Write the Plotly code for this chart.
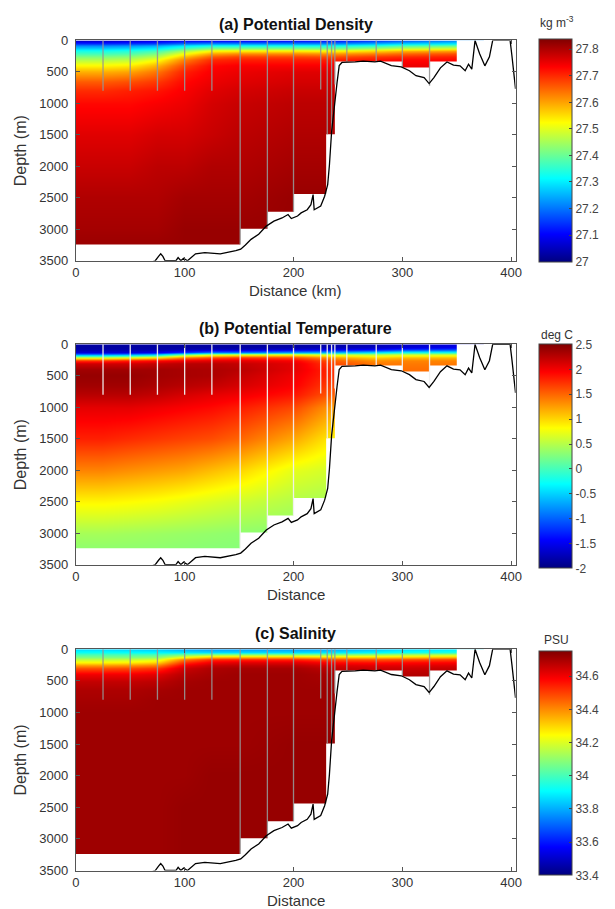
import plotly.graph_objects as go

# ---------------- data ----------------
dist_km = [0, 25, 50, 75, 100, 125, 150, 200, 240, 275, 300, 350]
depth_m = [0, 40, 80, 120, 160, 200, 250, 300, 400, 500, 650, 800, 1000, 1500, 2000, 2500, 3000, 3300]

# potential density (kg m-3), rows = depth_m, cols = dist_km
sigma = [
    [27.06, 27.06, 27.07, 27.08, 27.10, 27.10, 27.10, 27.11, 27.12, 27.15, 27.18, 27.22],
    [27.14, 27.14, 27.15, 27.16, 27.20, 27.22, 27.22, 27.22, 27.22, 27.25, 27.28, 27.30],
    [27.22, 27.22, 27.23, 27.25, 27.30, 27.33, 27.33, 27.33, 27.33, 27.35, 27.38, 27.40],
    [27.28, 27.28, 27.29, 27.31, 27.38, 27.43, 27.43, 27.43, 27.42, 27.45, 27.48, 27.50],
    [27.33, 27.33, 27.34, 27.37, 27.45, 27.52, 27.53, 27.53, 27.52, 27.55, 27.58, 27.60],
    [27.37, 27.37, 27.38, 27.42, 27.52, 27.60, 27.62, 27.62, 27.61, 27.63, 27.65, 27.67],
    [27.42, 27.42, 27.43, 27.47, 27.58, 27.66, 27.68, 27.68, 27.67, 27.69, 27.70, 27.71],
    [27.46, 27.46, 27.47, 27.52, 27.63, 27.70, 27.71, 27.71, 27.71, 27.72, 27.73, 27.73],
    [27.53, 27.53, 27.54, 27.59, 27.68, 27.73, 27.74, 27.74, 27.74, 27.75, 27.75, 27.75],
    [27.59, 27.59, 27.60, 27.64, 27.71, 27.74, 27.75, 27.76, 27.76, 27.76, 27.76, 27.76],
    [27.66, 27.66, 27.67, 27.69, 27.73, 27.75, 27.76, 27.77, 27.77, 27.77, 27.77, 27.77],
    [27.70, 27.70, 27.71, 27.72, 27.74, 27.76, 27.77, 27.78, 27.78, 27.78, 27.78, 27.78],
    [27.73, 27.73, 27.73, 27.74, 27.75, 27.77, 27.78, 27.79, 27.79, 27.79, 27.79, 27.79],
    [27.76, 27.76, 27.76, 27.77, 27.77, 27.78, 27.79, 27.80, 27.80, 27.80, 27.80, 27.80],
    [27.78, 27.78, 27.78, 27.79, 27.79, 27.80, 27.80, 27.81, 27.81, 27.81, 27.81, 27.81],
    [27.80, 27.80, 27.80, 27.80, 27.81, 27.81, 27.81, 27.82, 27.82, 27.82, 27.82, 27.82],
    [27.81, 27.81, 27.81, 27.81, 27.82, 27.82, 27.82, 27.82, 27.82, 27.82, 27.82, 27.82],
    [27.82, 27.82, 27.82, 27.82, 27.82, 27.82, 27.82, 27.82, 27.82, 27.82, 27.82, 27.82],
]

# potential temperature (deg C)
theta = [
    [-1.85, -1.85, -1.85, -1.85, -1.85, -1.85, -1.85, -1.85, -1.80, -1.75, -1.70, -1.60],
    [-1.85, -1.85, -1.85, -1.85, -1.85, -1.85, -1.85, -1.80, -1.75, -1.70, -1.60, -1.50],
    [-1.80, -1.80, -1.80, -1.80, -1.75, -1.70, -1.70, -1.60, -1.50, -1.40, -1.20, -1.10],
    [-1.60, -1.60, -1.60, -1.50, -1.20, -0.90, -0.90, -0.70, -0.60, -0.40, -0.20, -0.20],
    [-0.80, -0.80, -0.70, -0.50, 0.20, 0.60, 0.70, 0.80, 0.60, 0.50, 0.60, 0.60],
    [0.60, 0.60, 0.70, 0.90, 1.40, 1.60, 1.70, 1.60, 1.20, 1.00, 1.10, 1.10],
    [1.70, 1.70, 1.80, 1.90, 2.00, 2.05, 2.05, 1.95, 1.50, 1.30, 1.35, 1.35],
    [2.15, 2.15, 2.15, 2.20, 2.25, 2.25, 2.20, 2.05, 1.60, 1.40, 1.40, 1.40],
    [2.35, 2.35, 2.35, 2.35, 2.32, 2.30, 2.25, 2.05, 1.70, 1.50, 1.45, 1.45],
    [2.40, 2.40, 2.40, 2.35, 2.32, 2.30, 2.20, 2.00, 1.70, 1.50, 1.45, 1.45],
    [2.35, 2.35, 2.35, 2.30, 2.25, 2.20, 2.12, 1.95, 1.60, 1.50, 1.45, 1.45],
    [2.25, 2.25, 2.25, 2.20, 2.12, 2.05, 2.00, 1.85, 1.50, 1.45, 1.45, 1.45],
    [2.05, 2.05, 2.05, 2.00, 1.95, 1.90, 1.82, 1.62, 1.20, 1.20, 1.20, 1.20],
    [1.80, 1.80, 1.75, 1.70, 1.65, 1.60, 1.50, 1.20, 0.85, 0.85, 0.85, 0.85],
    [1.35, 1.35, 1.30, 1.25, 1.20, 1.10, 1.00, 0.70, 0.60, 0.60, 0.60, 0.60],
    [0.85, 0.85, 0.82, 0.78, 0.72, 0.66, 0.60, 0.48, 0.42, 0.42, 0.42, 0.42],
    [0.42, 0.42, 0.40, 0.38, 0.36, 0.34, 0.32, 0.30, 0.30, 0.30, 0.30, 0.30],
    [0.30, 0.30, 0.30, 0.30, 0.29, 0.28, 0.28, 0.28, 0.28, 0.28, 0.28, 0.28],
]

# salinity (PSU)
salt = [
    [33.86, 33.86, 33.85, 33.84, 33.80, 33.78, 33.78, 33.78, 33.80, 33.83, 33.86, 33.88],
    [33.92, 33.92, 33.91, 33.90, 33.88, 33.86, 33.86, 33.86, 33.88, 33.90, 33.93, 33.95],
    [34.00, 34.00, 34.00, 34.00, 34.05, 34.08, 34.08, 34.08, 34.08, 34.10, 34.12, 34.14],
    [34.08, 34.08, 34.08, 34.10, 34.25, 34.35, 34.36, 34.36, 34.32, 34.32, 34.33, 34.35],
    [34.16, 34.16, 34.17, 34.20, 34.42, 34.52, 34.53, 34.53, 34.48, 34.47, 34.48, 34.50],
    [34.25, 34.25, 34.26, 34.30, 34.52, 34.60, 34.62, 34.62, 34.57, 34.56, 34.57, 34.58],
    [34.38, 34.38, 34.39, 34.42, 34.60, 34.66, 34.67, 34.67, 34.63, 34.62, 34.62, 34.63],
    [34.48, 34.48, 34.49, 34.52, 34.65, 34.69, 34.70, 34.70, 34.66, 34.65, 34.65, 34.66],
    [34.60, 34.60, 34.60, 34.62, 34.68, 34.70, 34.71, 34.71, 34.69, 34.68, 34.68, 34.68],
    [34.66, 34.66, 34.66, 34.67, 34.70, 34.71, 34.71, 34.71, 34.70, 34.70, 34.70, 34.70],
    [34.69, 34.69, 34.69, 34.70, 34.71, 34.71, 34.71, 34.71, 34.71, 34.71, 34.71, 34.71],
    [34.70, 34.70, 34.70, 34.71, 34.71, 34.71, 34.71, 34.71, 34.71, 34.71, 34.71, 34.71],
    [34.71, 34.71, 34.71, 34.71, 34.71, 34.71, 34.71, 34.71, 34.71, 34.71, 34.71, 34.71],
    [34.71, 34.71, 34.71, 34.71, 34.71, 34.71, 34.71, 34.72, 34.72, 34.72, 34.72, 34.72],
    [34.71, 34.71, 34.71, 34.71, 34.71, 34.72, 34.72, 34.72, 34.72, 34.72, 34.72, 34.72],
    [34.71, 34.71, 34.71, 34.71, 34.72, 34.72, 34.72, 34.72, 34.72, 34.72, 34.72, 34.72],
    [34.71, 34.71, 34.71, 34.71, 34.72, 34.72, 34.72, 34.72, 34.72, 34.72, 34.72, 34.72],
    [34.71, 34.71, 34.71, 34.71, 34.72, 34.72, 34.72, 34.72, 34.72, 34.72, 34.72, 34.72],
]

# data coverage: blocks of stations with their maximum sampled depth
block_left = [0, 151, 176, 200, 230, 238, 300, 325]
block_right = [151, 176, 200, 230, 238, 300, 325, 350]
block_bottom = [3240, 2990, 2720, 2440, 1490, 335, 430, 335]

# station markers
station_km = [25, 50, 75, 100, 125, 151, 176, 200, 225, 231, 235, 238, 249, 276, 300, 325]
station_depth = [800, 800, 800, 800, 800, 3240, 2990, 2720, 780, 1490, 1490, 700, 335, 335, 430, 720]

# bathymetry
bathy_km = [70, 73, 76, 78, 80, 82, 92, 94, 96.5, 99, 102.6, 106, 110, 118.5, 132.7, 147, 151.5,
            155.8, 161, 168, 175, 182, 189.5, 195, 198, 203.7, 207, 212.6, 216, 218, 219, 225,
            228.6, 231.4, 233, 235, 237.4, 240, 242, 244.5, 256.7, 264, 274.8, 280, 289.9, 299,
            306.5, 312.5, 320, 324.6, 329, 335, 341, 347, 353, 357.7, 360.8, 363.8, 366.8, 371,
            375.8, 380, 383, 399, 400.7, 402.5, 404]
bathy_depth = [3520, 3500, 3430, 3390, 3430, 3500, 3500, 3450, 3500, 3460, 3500, 3450, 3390, 3370,
               3390, 3340, 3316, 3250, 3160, 3080, 2950, 2870, 2820, 2765, 2830, 2790, 2740, 2690,
               2610, 2450, 2690, 2630, 2475, 2290, 1980, 1450, 1030, 670, 400, 350, 342, 330, 342,
               330, 400, 420, 482, 560, 590, 685, 590, 435, 342, 393, 404, 482, 378, 455, 0, 210,
               404, 260, 0, 0, 247, 509, 770]

titles = ["(a) Potential Density", "(b) Potential Temperature", "(c) Salinity"]
xlabels = ["Distance (km)", "Distance", "Distance"]
cb_titles = ["kg m<sup>-3</sup>", "deg C", "PSU"]
cb_ranges = [(27.0, 27.84), (-2.0, 2.5), (33.4, 34.75)]
cb_tickvals = [[27.0, 27.1, 27.2, 27.3, 27.4, 27.5, 27.6, 27.7, 27.8],
               [-2, -1.5, -1, -0.5, 0, 0.5, 1, 1.5, 2, 2.5],
               [33.4, 33.6, 33.8, 34.0, 34.2, 34.4, 34.6]]
cb_ticktext = [["27", "27.1", "27.2", "27.3", "27.4", "27.5", "27.6", "27.7", "27.8"],
               ["-2", "-1.5", "-1", "-0.5", "0", "0.5", "1", "1.5", "2", "2.5"],
               ["33.4", "33.6", "33.8", "34", "34.2", "34.4", "34.6"]]
fields = [sigma, theta, salt]
xticks = [0, 100, 200, 300, 400]
yticks = [0, 500, 1000, 1500, 2000, 2500, 3000, 3500]

# ---------------- layout geometry ----------------
W, H = 615, 909
FONT = "Liberation Sans, Arial, Helvetica, sans-serif"
left_px, right_px = 73, 520
tops = [34, 343, 653]
bottoms = [258, 567, 878]
cb_tops = [34, 345, 657]
cb_bots = [257, 569, 881]
cb_title_off = [19, 11, 13]
station_colors = ["rgba(150,150,150,0.9)", "rgba(240,240,240,0.95)", "rgba(150,150,150,0.9)"]

jet = [[0.0, "rgb(0,0,128)"], [0.125, "rgb(0,0,255)"], [0.375, "rgb(0,255,255)"],
       [0.625, "rgb(255,255,0)"], [0.875, "rgb(255,0,0)"], [1.0, "rgb(128,0,0)"]]

def fx(p):
    return p / W

def fy(p):
    return 1 - p / H

XMAX = 404

# white mask polygon outside the sampled region
mask_x = [-5, block_left[0]]
mask_y = [3600, 3600]
for l, r, b in zip(block_left, block_right, block_bottom):
    mask_x += [l, r]
    mask_y += [b, b]
mask_x += [block_right[-1], XMAX + 10, XMAX + 10, -5]
mask_y += [-10, -10, 3600, 3600]

st_x, st_y = [], []
for s, d in zip(station_km, station_depth):
    st_x += [s, s, None]
    st_y += [0, d, None]

fig = go.Figure()
annotations = []
for i in range(3):
    xa = "x" if i == 0 else f"x{i+1}"
    ya = "y" if i == 0 else f"y{i+1}"
    cmin, cmax = cb_ranges[i]
    fig.add_trace(go.Heatmap(
        x=dist_km, y=depth_m, z=fields[i], xaxis=xa, yaxis=ya,
        zsmooth="best", colorscale=jet, zmin=cmin, zmax=cmax, hoverinfo="skip",
        colorbar=dict(
            x=fx(544), xanchor="left", xpad=0, y=fy((cb_tops[i] + cb_bots[i]) / 2),
            yanchor="middle", ypad=0, len=cb_bots[i] - cb_tops[i], lenmode="pixels",
            thickness=33, thicknessmode="pixels", outlinewidth=1, outlinecolor="#444",
            tickvals=cb_tickvals[i], ticktext=cb_ticktext[i], ticks="inside", ticklen=3,
            tickcolor="#444", tickfont=dict(family=FONT, size=12, color="#444"),
        ),
    ))
    fig.add_trace(go.Scatter(x=mask_x, y=mask_y, xaxis=xa, yaxis=ya, mode="lines",
                             fill="toself", fillcolor="white", line=dict(width=0),
                             hoverinfo="skip", showlegend=False))
    fig.add_trace(go.Scatter(x=st_x, y=st_y, xaxis=xa, yaxis=ya, mode="lines",
                             line=dict(color=station_colors[i], width=1.3),
                             hoverinfo="skip", showlegend=False))
    fig.add_trace(go.Scatter(x=bathy_km, y=bathy_depth, xaxis=xa, yaxis=ya, mode="lines",
                             line=dict(color="black", width=1.3),
                             hoverinfo="skip", showlegend=False))

    axis_common = dict(showline=True, linecolor="#555", linewidth=1, mirror="ticks",
                       ticks="inside", ticklen=4, tickcolor="#555", showgrid=False,
                       zeroline=False, tickfont=dict(family=FONT, size=13, color="#333"))
    fig.layout[("xaxis" if i == 0 else f"xaxis{i+1}")] = dict(
        domain=[fx(left_px), fx(right_px)], range=[0, XMAX], anchor=ya,
        tickvals=xticks, **axis_common)
    fig.layout[("yaxis" if i == 0 else f"yaxis{i+1}")] = dict(
        domain=[fy(bottoms[i]), fy(tops[i])], range=[3500, 0], anchor=xa,
        tickvals=yticks, ticklabelstandoff=4, **axis_common)

    cx = (left_px + right_px) / 2
    annotations.append(dict(text=f"<b>{titles[i]}</b>", x=fx(cx), y=fy(tops[i] - 16),
                            xref="paper", yref="paper", showarrow=False, xanchor="center",
                            yanchor="middle", font=dict(family=FONT, size=16, color="#111")))
    annotations.append(dict(text=xlabels[i], x=fx(cx), y=fy(bottoms[i] + 30),
                            xref="paper", yref="paper", showarrow=False, xanchor="center",
                            yanchor="middle", font=dict(family=FONT, size=15, color="#333")))
    annotations.append(dict(text="Depth (m)", x=fx(17), y=fy((tops[i] + bottoms[i]) / 2),
                            xref="paper", yref="paper", showarrow=False, textangle=-90,
                            xanchor="center", yanchor="middle",
                            font=dict(family=FONT, size=16, color="#333")))
    annotations.append(dict(text=cb_titles[i], x=fx(562), y=fy(cb_tops[i] - cb_title_off[i]),
                            xref="paper", yref="paper", showarrow=False, xanchor="center",
                            yanchor="middle", font=dict(family=FONT, size=12, color="#333")))

fig.update_layout(width=W, height=H, margin=dict(l=0, r=0, t=0, b=0),
                  paper_bgcolor="white", plot_bgcolor="white", showlegend=False,
                  annotations=annotations)
fig.write_html("out.html")
